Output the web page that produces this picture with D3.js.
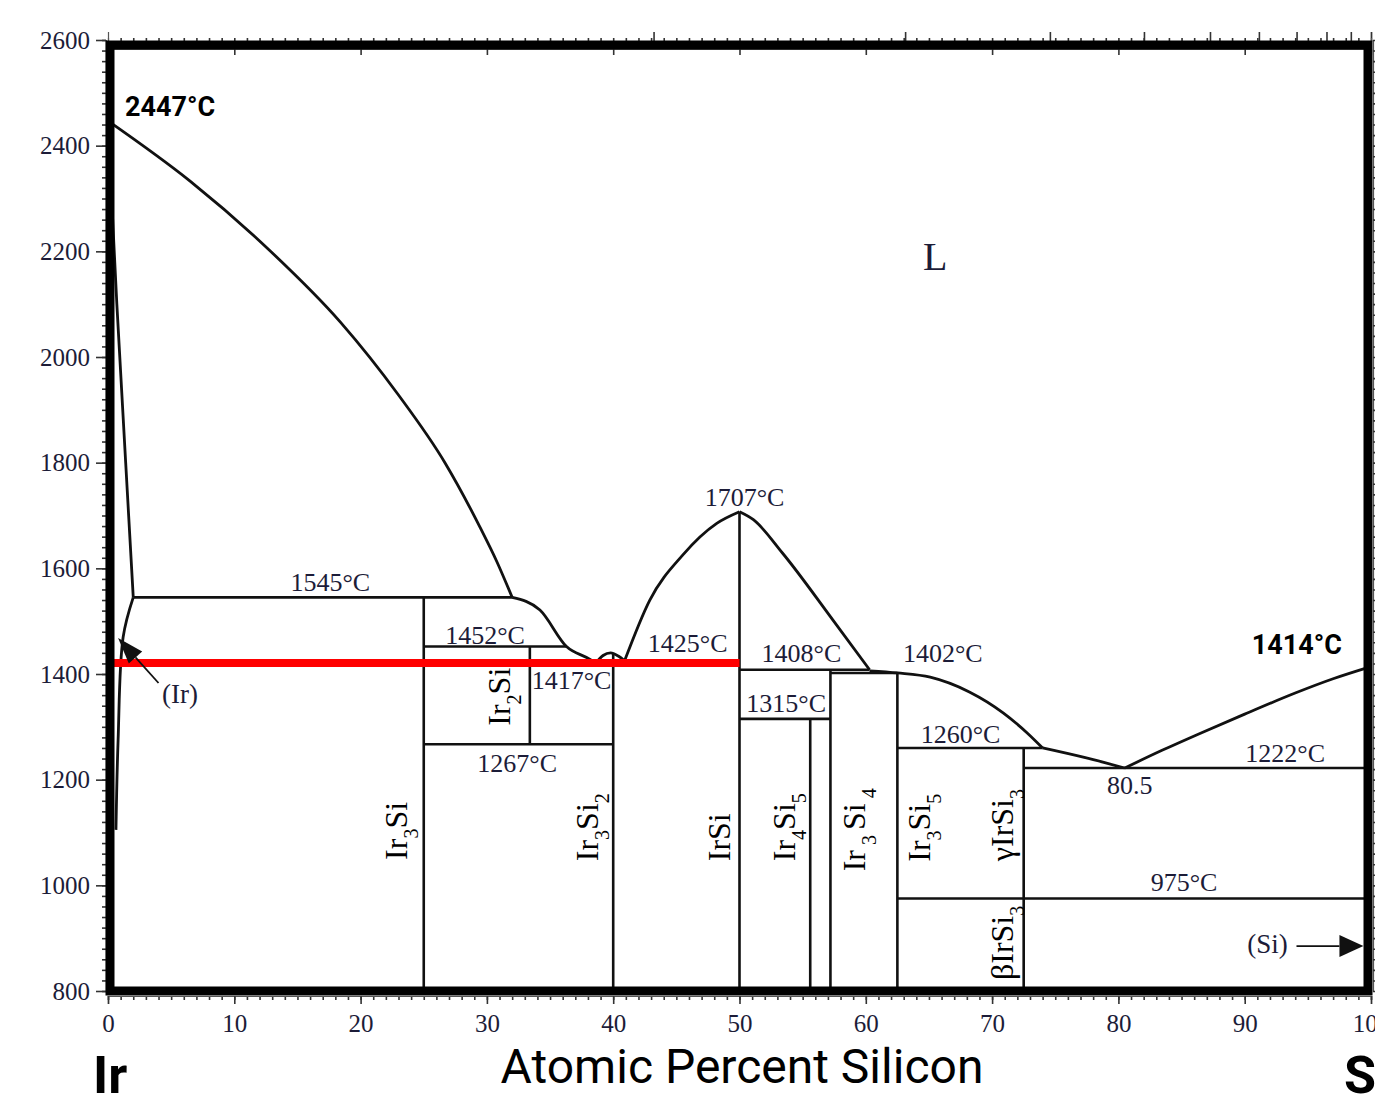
<!DOCTYPE html>
<html><head><meta charset="utf-8">
<script src="https://cdn.jsdelivr.net/npm/d3@7"></script>
<style>
body{margin:0;background:#fff;}
svg{display:block;}
</style></head><body>
<svg id="chart" width="1375" height="1097"></svg>
<script>
// Ir–Si binary phase diagram: temperature (°C) against atomic percent silicon

const xTicks = [0,10,20,30,40,50,60,70,80,90,100];
const yTicks = [800,1000,1200,1400,1600,1800,2000,2200,2400,2600];
const weightTicks = [10,20,30,40,50,60,70,80,90,100];

// phase boundaries: [at.% Si, °C]
const liquidusIr = [[0,2447],[6.5,2333],[12.7,2204],[18.4,2066],[23,1928],[26.7,1799],[29.45,1678],[30.8,1612],[32,1545]];
const solidusIr = [[0,2447],[0.7,2100],[1.4,1800],[2,1545]];
const solvusIr = [[2,1545],[1.2,1470],[0.8,1275],[0.63,1105]];
const liquidusIr2Si = [[32,1545],[34.2,1521],[36.3,1452],[38.2,1427],[38.6,1420]];
const domeIr3Si2 = [[38.6,1420],[39.2,1435],[39.8,1440],[40.4,1434],[40.9,1425]];
const liquidusIrSiL = [[40.9,1425],[42.9,1540],[45.5,1625],[48.2,1685],[50,1707]];
const liquidusIrSiR = [[50,1707],[51.1,1692],[53.4,1629],[57.4,1502],[60.3,1408]];
const liquidusIr3Si5 = [[60.3,1406],[62.5,1402],[65.1,1394],[68.2,1366],[70.9,1326],[72.8,1288],[74,1260]];
const liquidusIrSi3 = [[74,1260],[77.3,1242],[80.5,1222]];
const liquidusSi = [[80.5,1222],[83.5,1256],[86.5,1288],[90,1324],[94,1364],[97,1391],[100,1414]];

// invariant isotherms: [from at.%, to at.%, °C]
const isotherms = [[2,32,1545],[25,36.3,1452],[33.4,40,1417],[40,50,1425],[25,40,1267],
  [50,60.3,1408],[57.2,62.5,1402],[50,57.2,1315],[62.5,74,1260],[72.5,100,1222],[62.5,100,975]];
// line compounds: [at.%, lower °C, upper °C]
const compounds = [[25,800,1545],[33.4,1267,1452],[40,800,1438],[50,800,1707],[55.6,800,1315],
  [57.2,800,1408],[62.5,800,1402],[72.5,800,1260]];

// highlighted isotherm
const highlight = [[0,1421],[50,1421]];

// temperature / composition labels: [text, at.%, °C]
const tempLabels = [["1545°C",17.6,1557],["1452°C",29.85,1457],["1417°C",36.7,1372],["1267°C",32.4,1214],
  ["1425°C",45.9,1442],["1707°C",50.4,1718],["1408°C",54.9,1423],["1402°C",66.1,1423],["1315°C",53.7,1328],
  ["1260°C",67.5,1269],["1222°C",93.2,1233],["80.5",80.9,1173],["975°C",85.2,989]];
const phaseLabels = [["L",65.5,2165,40],["(Ir)",5.7,1345,27],["(Si)",91.8,872,27]];

// compound names (vertical): [[text, subscript?]...], at.%, °C
const compoundLabels = [
  [[["Ir",0],["3",1],["Si",0]],23.7,1103],
  [[["Ir",0],["2",1],["Si",0]],31.8,1357],
  [[["Ir",0],["3",1],["Si",0],["2",1]],38.8,1110],
  [[["IrSi",0]],49.25,1091],
  [[["Ir",0],["4",1],["Si",0],["5",1]],54.4,1110],
  [[["Ir",0],[" 3 ",1],["Si",0],[" 4",1]],59.9,1105],
  [[["Ir",0],["3",1],["Si",0],["5",1]],65.1,1109],
  [[["γIrSi",0],["3",1]],71.65,1114],
  [[["βIrSi",0],["3",1]],71.65,891]
];

const arrowIr = [[4.0,1383],[0.8,1468]];
const arrowSi = [[94.1,885],[99.4,885]];

const meltLabels = [["2447°C",1.35,2456,"start"],["1414°C",97.7,1438,"end"]];

// atomic masses for the weight-percent scale along the top edge
const massIr = 192.217, massSi = 28.086;
const wtToAt = w => { const s = w / massSi, r = (100 - w) / massIr; return 100 * s / (s + r); };

const svg = d3.select("#chart");
const x = d3.scaleLinear().domain([0,100]).range([108,1371]);
const y = d3.scaleLinear().domain([800,2600]).range([991,40]);

const serif = "'Liberation Serif','Times New Roman',serif";
const ink = "#111";
const textInk = "#1c1c38";

// left axis
const axLeft = svg.append("g").attr("transform","translate(106,0)");
axLeft.call(d3.axisLeft(y).tickValues(d3.range(800,2601,20)).tickSize(4).tickFormat(""));
axLeft.append("g").call(d3.axisLeft(y).tickValues(yTicks).tickSize(10).tickPadding(6).tickFormat(d3.format("d")));
axLeft.selectAll("text").attr("font-family",serif).attr("font-size",25).attr("fill",textInk);
// right axis
const axRight = svg.append("g").attr("transform","translate(1373,0)");
axRight.call(d3.axisRight(y).tickValues(d3.range(800,2601,20)).tickSize(4).tickFormat(""));
// bottom axis
const axBottom = svg.append("g").attr("transform","translate(0,996)");
axBottom.call(d3.axisBottom(x).tickValues(d3.range(0,101,1)).tickSize(4).tickFormat(""));
axBottom.append("g").call(d3.axisBottom(x).tickValues(xTicks).tickSize(8).tickPadding(10).tickFormat(d3.format("d")));
axBottom.selectAll("text").attr("font-family",serif).attr("font-size",25).attr("fill",textInk);
// top axis: weight percent silicon
const axTop = svg.append("g").attr("transform","translate(0,41)");
axTop.call(d3.axisTop(x).tickValues(weightTicks.map(wtToAt)).tickSize(9).tickFormat(""));
axTop.append("g").call(d3.axisTop(x).tickValues(d3.range(1,100,1)).tickSize(3).tickFormat(""));
const axInner = svg.append("g").attr("transform","translate(0,49)");
axInner.call(d3.axisBottom(x).tickValues(d3.range(10,91,10)).tickSize(6).tickFormat(""));
svg.selectAll(".domain").attr("stroke","#555").attr("stroke-width",1.2);
svg.selectAll(".tick line").attr("stroke","#333").attr("stroke-width",1.6);

const plot = svg.append("g");
const smoothX = d3.line().x(d => x(d[0])).y(d => y(d[1])).curve(d3.curveMonotoneX);
const smooth = d3.line().x(d => x(d[0])).y(d => y(d[1])).curve(d3.curveCatmullRom.alpha(0.5));

// phase boundaries
[liquidusIr, liquidusIr2Si, domeIr3Si2, liquidusIrSiL, liquidusIrSiR,
 liquidusIr3Si5, liquidusIrSi3, liquidusSi].forEach(pts => {
  plot.append("path").attr("d", smoothX(pts)).attr("fill","none")
    .attr("stroke",ink).attr("stroke-width",2.8).attr("stroke-linejoin","round");
});
[solidusIr, solvusIr].forEach(pts => {
  plot.append("path").attr("d", smooth(pts)).attr("fill","none")
    .attr("stroke",ink).attr("stroke-width",2.8).attr("stroke-linejoin","round");
});

plot.selectAll("line.iso").data(isotherms).join("line").attr("class","iso")
  .attr("x1",d => x(d[0])).attr("x2",d => x(d[1])).attr("y1",d => y(d[2])).attr("y2",d => y(d[2]))
  .attr("stroke",ink).attr("stroke-width",2.6);
plot.selectAll("line.cmp").data(compounds).join("line").attr("class","cmp")
  .attr("x1",d => x(d[0])).attr("x2",d => x(d[0])).attr("y1",d => y(d[1])).attr("y2",d => y(d[2]))
  .attr("stroke",ink).attr("stroke-width",2.6);

// highlighted isotherm
plot.append("line")
  .attr("x1",x(highlight[0][0])).attr("x2",x(highlight[1][0]))
  .attr("y1",y(highlight[0][1])).attr("y2",y(highlight[1][1]))
  .attr("stroke","#ff0000").attr("stroke-width",8);

// arrows to the terminal solid solutions
function arrow(pts, len, half) {
  const [x0,y0] = [x(pts[0][0]), y(pts[0][1])], [x1,y1] = [x(pts[1][0]), y(pts[1][1])];
  const dx = x1 - x0, dy = y1 - y0, L = Math.hypot(dx,dy), ux = dx/L, uy = dy/L;
  const bx = x1 - ux*len, by = y1 - uy*len;
  plot.append("line").attr("x1",x0).attr("y1",y0).attr("x2",bx).attr("y2",by)
    .attr("stroke",ink).attr("stroke-width",1.8);
  plot.append("path").attr("d",`M${x1},${y1}L${bx - uy*half},${by + ux*half}L${bx + uy*half},${by - ux*half}Z`)
    .attr("fill",ink);
}
arrow(arrowIr, 26, 9);
arrow(arrowSi, 24, 11);

// frame
svg.append("rect").attr("x",x(0)+2).attr("y",y(2600)+5)
  .attr("width",x(100)-3-(x(0)+2)).attr("height",y(800)-(y(2600)+5))
  .attr("fill","none").attr("stroke","#000").attr("stroke-width",9);

// labels
plot.selectAll("text.t").data(tempLabels).join("text").attr("class","t")
  .attr("x",d => x(d[1])).attr("y",d => y(d[2])).attr("text-anchor","middle")
  .attr("font-family",serif).attr("font-size",26).attr("fill",textInk).text(d => d[0]);
plot.selectAll("text.p").data(phaseLabels).join("text").attr("class","p")
  .attr("x",d => x(d[1])).attr("y",d => y(d[2])).attr("text-anchor","middle")
  .attr("font-family",serif).attr("font-size",d => d[3]).attr("fill",textInk).text(d => d[0]);

compoundLabels.forEach(([parts, c, t]) => {
  const txt = plot.append("text")
    .attr("transform",`translate(${x(c)},${y(t)}) rotate(-90)`)
    .attr("text-anchor","middle").attr("font-family",serif).attr("font-size",32).attr("fill","#000");
  let shifted = false;
  parts.forEach(([s, sub]) => {
    const ts = txt.append("tspan").text(s);
    if (sub && !shifted) { ts.attr("dy",11).attr("font-size",20); shifted = true; }
    else if (sub) { ts.attr("font-size",20); }
    else if (!sub && shifted) { ts.attr("dy",-11); shifted = false; }
  });
});

svg.selectAll("text.m").data(meltLabels).join("text").attr("class","m")
  .attr("x",d => x(d[1])).attr("y",d => y(d[2])).attr("text-anchor",d => d[3])
  .attr("font-family","Roboto, sans-serif").attr("font-weight",700).attr("font-size",27)
  .attr("fill","#000").text(d => d[0]);

svg.append("text").attr("x",742).attr("y",1083).attr("text-anchor","middle")
  .attr("font-family","Roboto, sans-serif").attr("font-size",48).attr("fill","#000")
  .text("Atomic Percent Silicon");
svg.append("text").attr("x",93).attr("y",1093)
  .attr("font-family","Roboto, sans-serif").attr("font-weight",700).attr("font-size",52).attr("fill","#000")
  .text("Ir");
svg.append("text").attr("x",1344).attr("y",1093)
  .attr("font-family","Roboto, sans-serif").attr("font-weight",700).attr("font-size",52).attr("fill","#000")
  .text("Si");
</script>
</body></html>
